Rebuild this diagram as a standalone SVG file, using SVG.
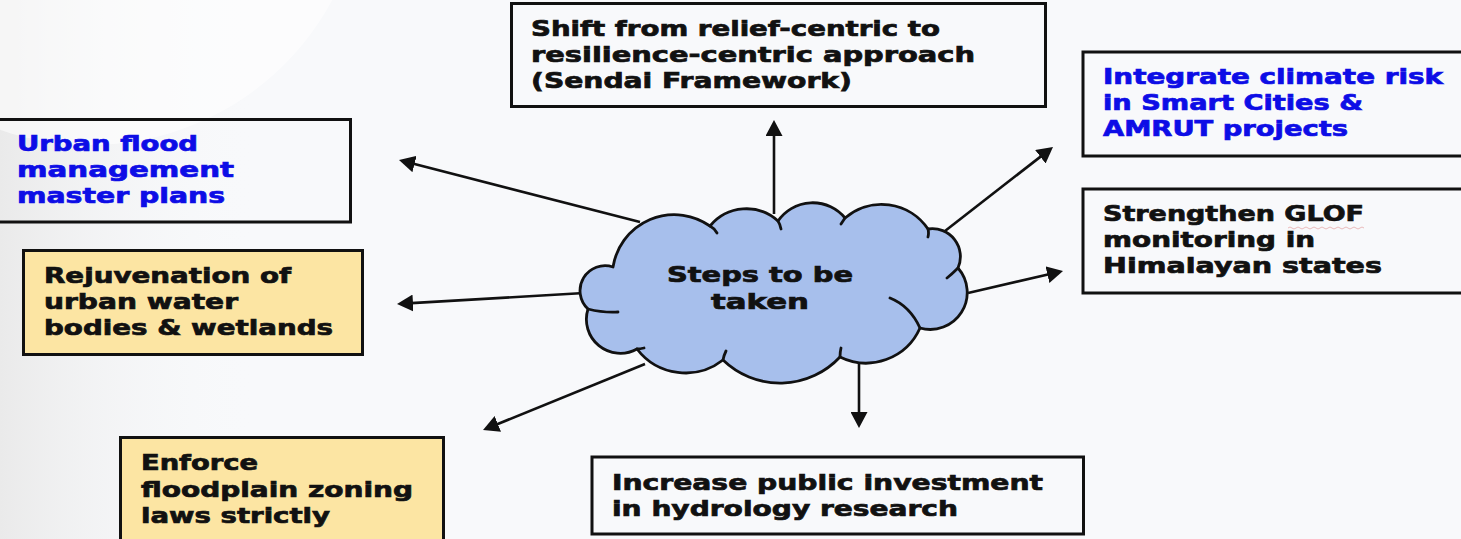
<svg xmlns="http://www.w3.org/2000/svg" width="1461" height="539" viewBox="0 0 1461 539">
  <defs>
    <linearGradient id="bgLeft" x1="0" y1="0" x2="1" y2="0">
      <stop offset="0" stop-color="#eaeaea" stop-opacity="1"/>
      <stop offset="1" stop-color="#f8f9fb" stop-opacity="0"/>
    </linearGradient>
    <marker id="ah" markerUnits="userSpaceOnUse" viewBox="0 0 16 17" markerWidth="16" markerHeight="17" refX="6" refY="8.5" orient="auto">
      <path d="M0,0 L16,8.5 L0,17 Z" fill="#111"/>
    </marker>
    <style>
      .box { stroke: #111; stroke-width: 3; fill: none; }
      .yel { fill: #fce5a3; }
      .t { font-family: "DejaVu Sans", "Liberation Sans", sans-serif; font-weight: bold; font-size: 21px; fill: #111; stroke: #111; stroke-width: 0.7; }
      .blue { fill: #0d0de6; stroke: #0d0de6; }
      .conn { stroke: #111; stroke-width: 2.6; fill: none; marker-end: url(#ah); }
      .cloud { fill: #a7bfec; stroke: #111; stroke-width: 2.8; stroke-linejoin: round; }
      .tail { fill: none; stroke: #111; stroke-width: 2.8; stroke-linecap: round; }
    </style>
  </defs>

  <rect x="0" y="0" width="1461" height="539" fill="#f8f9fb"/>
  <rect x="0" y="0" width="260" height="539" fill="url(#bgLeft)"/>
  <circle cx="90" cy="-130" r="275" fill="#ffffff" fill-opacity="0.55"/>

  <g id="connectors">
    <line class="conn" x1="774" y1="214" x2="774" y2="130"/>
    <line class="conn" x1="945" y1="231" x2="1045.1" y2="153.1"/>
    <line class="conn" x1="968" y1="293" x2="1053.3" y2="273.3"/>
    <line class="conn" x1="859" y1="355" x2="859" y2="418"/>
    <line class="conn" x1="645" y1="364" x2="492.3" y2="426.2"/>
    <line class="conn" x1="580" y1="293.3" x2="407" y2="303.4"/>
    <line class="conn" x1="640" y1="222" x2="408.7" y2="162.5"/>
  </g>

  <g id="cloud">
    <path class="cloud" d="M613,267 A62,62 0 0 1 710,226 A47,47 0 0 1 778,221 A42,42 0 0 1 845,218 A56,56 0 0 1 928,229 A28,28 0 0 1 958,268 A37,37 0 0 1 920,328 A59,59 0 0 1 840,357 A82,82 0 0 1 723,360 A61,61 0 0 1 637,349 A34,34 0 0 1 588,309 A25,25 0 0 1 613,267 Z"/>
    <path class="tail" d="M710,226 Q714,228 717,233 M778,221 Q780,224 781,229 M845,218 Q843,221 841,224 M928,229 Q929,233 928,237 M958,268 Q952,274 947,278 M920,328 Q910,306 890,298 M840,357 Q840,352 841,348 M723,360 Q724,355 726,351 M637,349 Q640,349 644,348 M588,309 Q604,313 618,312"/>
    <text class="t" x="760" y="282" text-anchor="middle" textLength="186" lengthAdjust="spacingAndGlyphs">Steps to be</text>
    <text class="t" x="760" y="309" text-anchor="middle" textLength="98" lengthAdjust="spacingAndGlyphs">taken</text>
  </g>

  <g id="node-shift">
    <rect class="box" x="511.5" y="3.5" width="534" height="103"/>
    <text class="t" x="531" y="36" textLength="409" lengthAdjust="spacingAndGlyphs">Shift from relief-centric to</text>
    <text class="t" x="531" y="62" textLength="444" lengthAdjust="spacingAndGlyphs">resilience-centric approach</text>
    <text class="t" x="531" y="88" textLength="321" lengthAdjust="spacingAndGlyphs">(Sendai Framework)</text>
  </g>

  <g id="node-integrate">
    <rect class="box" x="1083" y="52" width="390" height="104"/>
    <text class="t blue" x="1103" y="84" textLength="340" lengthAdjust="spacingAndGlyphs">Integrate climate risk</text>
    <text class="t blue" x="1103" y="110" textLength="260" lengthAdjust="spacingAndGlyphs">in Smart Cities &amp;</text>
    <text class="t blue" x="1103" y="136" textLength="245" lengthAdjust="spacingAndGlyphs">AMRUT projects</text>
  </g>

  <g id="node-glof">
    <rect class="box" x="1083" y="189" width="390" height="104"/>
    <text class="t" x="1103" y="221" textLength="261" lengthAdjust="spacingAndGlyphs">Strengthen GLOF</text>
    <path d="M1288,228 q2,-2 4,0 t4,0 t4,0 t4,0 t4,0 t4,0 t4,0 t4,0 t4,0 t4,0 t4,0 t4,0 t4,0 t4,0 t4,0 t4,0 t4,0 t4,0 t4,0" fill="none" stroke="#e3a0a0" stroke-width="1" stroke-opacity="0.7"/>
    <text class="t" x="1103" y="247" textLength="212" lengthAdjust="spacingAndGlyphs">monitoring in</text>
    <text class="t" x="1103" y="273" textLength="279" lengthAdjust="spacingAndGlyphs">Himalayan states</text>
  </g>

  <g id="node-urban">
    <rect class="box" x="-2" y="119.5" width="352.5" height="102.5"/>
    <text class="t blue" x="17" y="151" textLength="181" lengthAdjust="spacingAndGlyphs">Urban flood</text>
    <text class="t blue" x="17" y="177" textLength="217" lengthAdjust="spacingAndGlyphs">management</text>
    <text class="t blue" x="17" y="203" textLength="208" lengthAdjust="spacingAndGlyphs">master plans</text>
  </g>

  <g id="node-rejuvenation">
    <rect class="box yel" x="23.5" y="250.5" width="339" height="104"/>
    <text class="t" x="44" y="283" textLength="247" lengthAdjust="spacingAndGlyphs">Rejuvenation of</text>
    <text class="t" x="44" y="309" textLength="194" lengthAdjust="spacingAndGlyphs">urban water</text>
    <text class="t" x="44" y="335" textLength="289" lengthAdjust="spacingAndGlyphs">bodies &amp; wetlands</text>
  </g>

  <g id="node-enforce">
    <rect class="box yel" x="120.5" y="437.5" width="323" height="110"/>
    <text class="t" x="141" y="470" textLength="117" lengthAdjust="spacingAndGlyphs">Enforce</text>
    <text class="t" x="141" y="497" textLength="272" lengthAdjust="spacingAndGlyphs">floodplain zoning</text>
    <text class="t" x="141" y="523" textLength="189" lengthAdjust="spacingAndGlyphs">laws strictly</text>
  </g>

  <g id="node-increase">
    <rect class="box" x="592" y="457" width="491.5" height="77"/>
    <text class="t" x="612" y="490" textLength="431" lengthAdjust="spacingAndGlyphs">Increase public investment</text>
    <text class="t" x="612" y="516" textLength="346" lengthAdjust="spacingAndGlyphs">in hydrology research</text>
  </g>
</svg>
